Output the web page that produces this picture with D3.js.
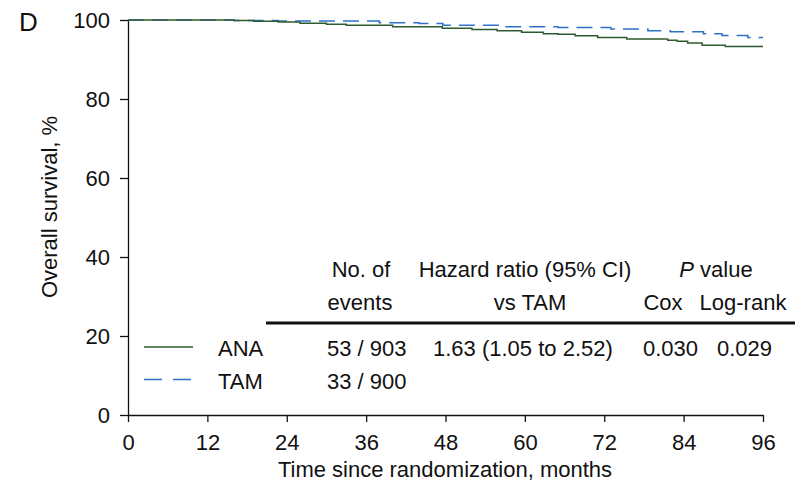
<!DOCTYPE html>
<html>
<head>
<meta charset="utf-8">
<script src="https://cdn.jsdelivr.net/npm/d3@7"></script>
<style>
  html, body { margin: 0; padding: 0; background: #fff; }
  svg text { font-family: "Liberation Sans", Arial, sans-serif; fill: #111; }
</style>
</head>
<body>
<svg id="chart" width="806" height="486"></svg>
<script>
// Kaplan–Meier step data: time in months, overall survival in %
const anaTimes  = [0, 16, 19, 22.7, 26, 30, 33, 40, 47.5, 52, 55.8, 59.5, 62.8, 65, 67.6, 71, 75.4, 81.6, 83, 84.6, 86.8, 90.3, 96];
const anaValues = [100, 99.9, 99.7, 99.5, 99.2, 98.9, 98.7, 98.3, 97.9, 97.6, 97.3, 96.9, 96.5, 96.4, 96.0, 95.6, 95.2, 94.9, 94.6, 94.2, 93.6, 93.3, 93.3];
const tamTimes  = [0, 16, 22.7, 38, 44, 47.6, 56.7, 65, 73, 78.6, 82, 87, 89.8, 93.7, 96];
const tamValues = [100, 99.9, 99.75, 99.3, 99.1, 98.7, 98.3, 98.1, 97.7, 97.3, 97.0, 96.5, 96.1, 95.6, 95.6];

const xTicks = [0, 12, 24, 36, 48, 60, 72, 84, 96];
const yTicks = [0, 20, 40, 60, 80, 100];

const groups   = ["ANA", "TAM"];
const events   = ["53 / 903", "33 / 900"];
const hazard   = "1.63 (1.05 to 2.52)";
const pCox     = "0.030";
const pLogRank = "0.029";

const svg = d3.select("#chart");
const x = d3.scaleLinear().domain([0, 96]).range([128, 763]);
const y = d3.scaleLinear().domain([0, 100]).range([415, 20]);

const fs = 22;

// axes
const xAxis = svg.append("g").attr("transform", `translate(0,${y(0)})`)
  .call(d3.axisBottom(x).tickValues(xTicks).tickSize(7).tickPadding(12).tickSizeOuter(0));
const yAxis = svg.append("g").attr("transform", `translate(${x(0)},0)`)
  .call(d3.axisLeft(y).tickValues(yTicks).tickSize(8).tickPadding(10).tickSizeOuter(0));
[xAxis, yAxis].forEach(g => {
  g.select(".domain").attr("stroke", "#111").attr("stroke-width", 1.3);
  g.selectAll(".tick line").attr("stroke", "#111").attr("stroke-width", 1.3);
  g.selectAll(".tick text").style("font-size", fs + "px").attr("fill", "#111");
});

// survival curves
const line = d3.line().curve(d3.curveStepAfter).x(d => x(d[0])).y(d => y(d[1]));
const series = [
  { name: "ANA", pts: d3.zip(anaTimes, anaValues), color: "#2f5a2f", dash: null },
  { name: "TAM", pts: d3.zip(tamTimes, tamValues), color: "#2e72c8", dash: "16,8" }
];
series.slice().reverse().forEach(s => {
  svg.append("path").attr("d", line(s.pts)).attr("fill", "none")
    .attr("stroke", s.color).attr("stroke-width", 1.5)
    .attr("stroke-dasharray", s.dash);
});

// panel letter and axis titles
svg.append("text").attr("x", 19).attr("y", 31).style("font-size", "26px").text("D");
svg.append("text").attr("x", 445).attr("y", 477).attr("text-anchor", "middle")
  .style("font-size", fs + "px").text("Time since randomization, months");
svg.append("text").attr("transform", "translate(57,207) rotate(-90)").attr("text-anchor", "middle")
  .style("font-size", fs + "px").text("Overall survival, %");

// summary table
const t = svg.append("g").style("font-size", fs + "px");
t.append("text").attr("x", 361).attr("y", 277).attr("text-anchor", "middle").text("No. of");
t.append("text").attr("x", 360).attr("y", 310).attr("text-anchor", "middle").text("events");
t.append("text").attr("x", 525).attr("y", 277).attr("text-anchor", "middle").text("Hazard ratio (95% CI)");
t.append("text").attr("x", 530).attr("y", 310).attr("text-anchor", "middle").text("vs TAM");
const pv = t.append("text").attr("x", 716).attr("y", 277).attr("text-anchor", "middle");
pv.append("tspan").style("font-style", "italic").text("P");
pv.append("tspan").text(" value");
t.append("text").attr("x", 663).attr("y", 310).attr("text-anchor", "middle").text("Cox");
t.append("text").attr("x", 743).attr("y", 310).attr("text-anchor", "middle").text("Log-rank");
t.append("line").attr("x1", 266).attr("x2", 795).attr("y1", 323).attr("y2", 323)
  .attr("stroke", "#111").attr("stroke-width", 3);

const rowY = [356, 389];
const keyY = [347, 379.5];
series.forEach((s, i) => {
  t.append("line").attr("x1", 144).attr("x2", 193).attr("y1", keyY[i]).attr("y2", keyY[i])
    .attr("stroke", s.color).attr("stroke-width", 1.5).attr("stroke-dasharray", s.dash ? "18,11" : null);
  t.append("text").attr("x", 218).attr("y", rowY[i]).text(groups[i]);
  t.append("text").attr("x", 327).attr("y", rowY[i]).text(events[i]);
});
t.append("text").attr("x", 433).attr("y", rowY[0]).text(hazard);
t.append("text").attr("x", 643).attr("y", rowY[0]).text(pCox);
t.append("text").attr("x", 717).attr("y", rowY[0]).text(pLogRank);
</script>
</body>
</html>
